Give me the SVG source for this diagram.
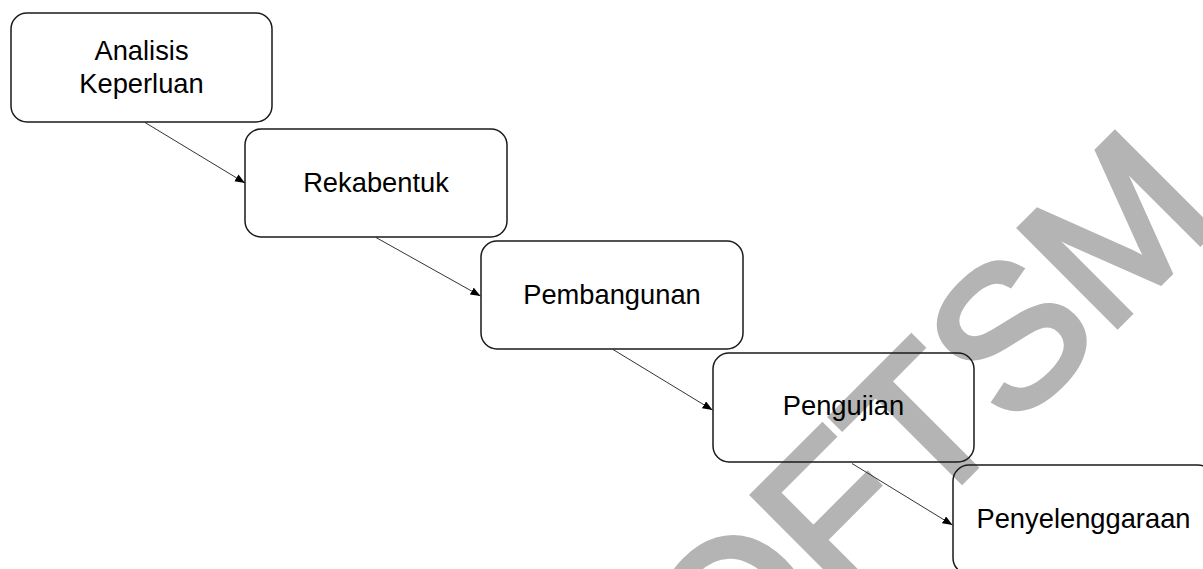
<svg xmlns="http://www.w3.org/2000/svg" width="1203" height="569" viewBox="0 0 1203 569">
  <style>
    .box { fill: none; stroke: #1a1a1a; stroke-width: 1.5; }
    .lbl { font-family: "Liberation Sans", Arial, sans-serif; font-size: 27.3px; fill: #000; text-anchor: middle; }
    .conn { stroke: #333; stroke-width: 1; fill: none; }
    .wm { font-family: "Liberation Sans", Arial, sans-serif; font-size: 200px; fill: #b4b4b4; stroke: #b4b4b4; stroke-width: 6; }
  </style>
  <defs>
    <marker id="arrow" markerUnits="userSpaceOnUse" markerWidth="11" markerHeight="9" refX="10" refY="4" orient="auto">
      <path d="M0,0 L10,4 L0,8 Z" fill="#000"/>
    </marker>
  </defs>
  <rect width="1203" height="569" fill="#fff"/>

  <g id="watermark">
    <text class="wm" transform="translate(729,714) rotate(-45)">OFTSM</text>
  </g>

  <g id="connectors">
    <line class="conn" x1="145" y1="122.5" x2="245" y2="183" marker-end="url(#arrow)"/>
    <line class="conn" x1="376" y1="237.5" x2="480.5" y2="296" marker-end="url(#arrow)"/>
    <line class="conn" x1="613" y1="349.5" x2="712.5" y2="410" marker-end="url(#arrow)"/>
    <line class="conn" x1="852" y1="463.5" x2="952.5" y2="525" marker-end="url(#arrow)"/>
  </g>

  <g id="node-analisis">
    <rect class="box" x="11" y="13" width="261" height="109" rx="16" ry="16"/>
    <text class="lbl" x="141.5" y="60">Analisis</text>
    <text class="lbl" x="141.5" y="93">Keperluan</text>
  </g>
  <g id="node-rekabentuk">
    <rect class="box" x="245" y="129" width="262" height="108" rx="16" ry="16"/>
    <text class="lbl" x="376" y="192">Rekabentuk</text>
  </g>
  <g id="node-pembangunan">
    <rect class="box" x="481" y="241" width="262" height="108" rx="16" ry="16"/>
    <text class="lbl" x="612" y="304">Pembangunan</text>
  </g>
  <g id="node-pengujian">
    <rect class="box" x="713" y="353" width="261" height="109" rx="16" ry="16"/>
    <text class="lbl" x="843.5" y="415">Pengujian</text>
  </g>
  <g id="node-penyelenggaraan">
    <rect class="box" x="953" y="465" width="261" height="109" rx="16" ry="16"/>
    <text class="lbl" x="1083.5" y="527.5">Penyelenggaraan</text>
  </g>
</svg>
